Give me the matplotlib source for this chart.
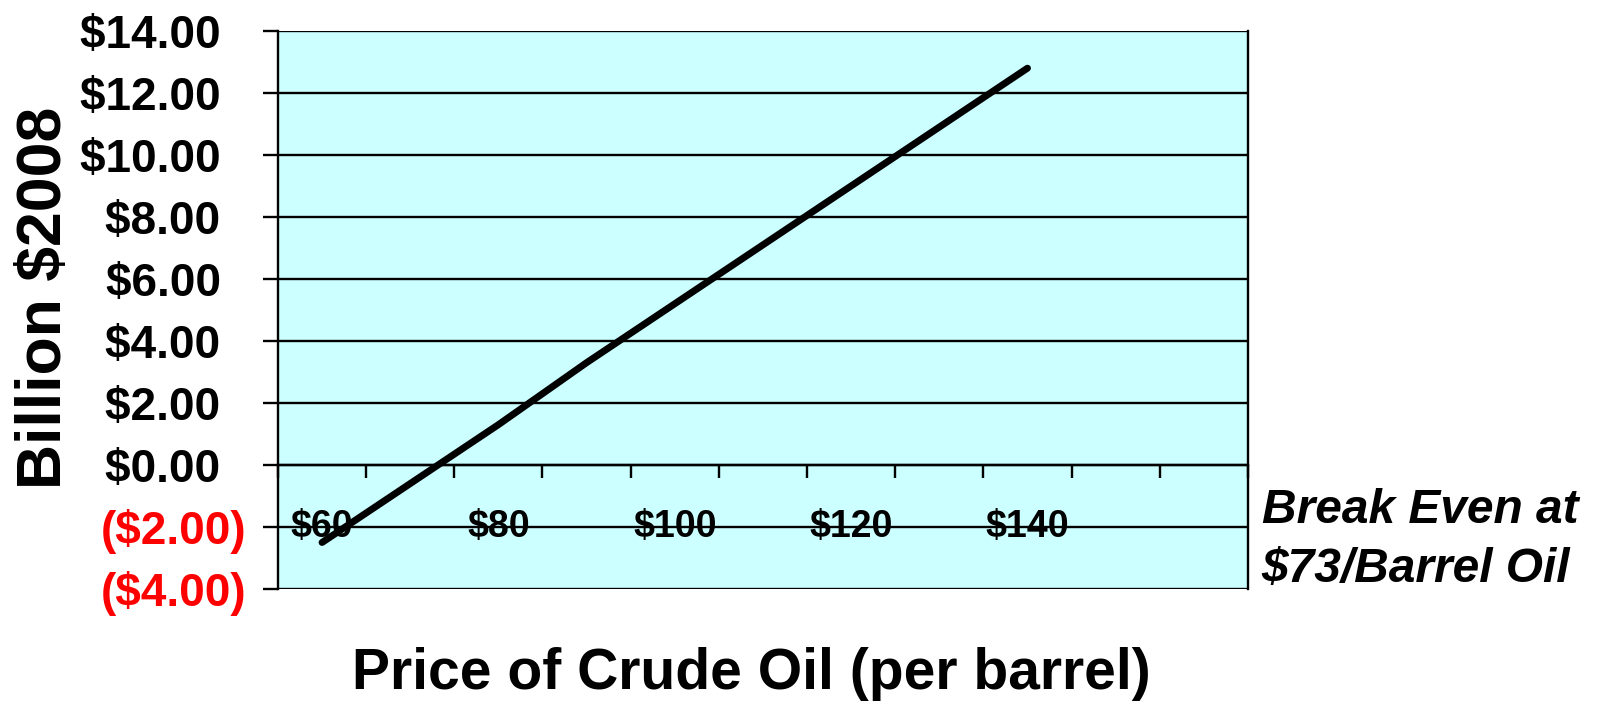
import matplotlib.pyplot as plt

plt.rcParams["font.family"] = ["Liberation Sans", "DejaVu Sans"]

# oil price categories ($/barrel) and net benefit (billion $2008)
prices = [60, 70, 80, 90, 100, 110, 120, 130, 140]
benefit = [-2.5, -0.6, 1.3, 3.3, 5.2, 7.1, 9.0, 10.9, 12.8]
price_labels = [60, 80, 100, 120, 140]
y_ticks = [-4, -2, 0, 2, 4, 6, 8, 10, 12, 14]


def money(v):
    if v < 0:
        return "(${:.2f})".format(-v)
    return "${:.2f}  ".format(v)


fig = plt.figure(figsize=(16.03, 7.12), dpi=100)
ax = fig.add_axes([0.1734, 0.1728, 0.6051, 0.7837])
ax.set_facecolor("#CCFFFF")

ax.plot(prices, benefit, color="black", lw=5, solid_capstyle="round", zorder=3)

ax.set_xlim(55, 165)
ax.set_ylim(-4, 14)

# horizontal gridlines
for v in y_ticks:
    ax.axhline(v, color="black", lw=1.7, zorder=1)

ax.set_yticks(y_ticks)
ax.set_yticklabels([money(v) for v in y_ticks], fontsize=33, fontweight="bold")
for lab, v in zip(ax.get_yticklabels(), y_ticks):
    lab.set_color("red" if v < 0 else "black")
ax.tick_params(axis="y", direction="out", length=11, width=1.7, pad=12)

# category axis crossing at zero
ax.spines["bottom"].set_position(("data", 0))
ax.spines["top"].set_visible(False)
for s in ["left", "right", "bottom"]:
    ax.spines[s].set_linewidth(1.7)
ax.set_xticks([55 + 10 * i for i in range(12)])
ax.set_xticklabels([])
ax.tick_params(axis="x", direction="out", length=9, width=1.7)

for p in price_labels:
    ax.text(p, -2.0, "${}".format(p), fontsize=27, fontweight="bold",
            ha="center", va="center", zorder=2)

fig.text(0.028, 0.5815, "Billion $2008", rotation=90, fontsize=45,
         fontweight="bold", ha="center", va="center")
fig.text(0.4685, 0.0534, "Price of Crude Oil (per barrel)", fontsize=41,
         fontweight="bold", ha="center", va="center")
fig.text(0.787, 0.265, "Break Even at", fontsize=34.5, fontweight="bold",
         fontstyle="italic", ha="left", va="baseline")
fig.text(0.787, 0.1806, "$73/Barrel Oil", fontsize=34.5, fontweight="bold",
         fontstyle="italic", ha="left", va="baseline")

fig.savefig("out.png", dpi=100)
